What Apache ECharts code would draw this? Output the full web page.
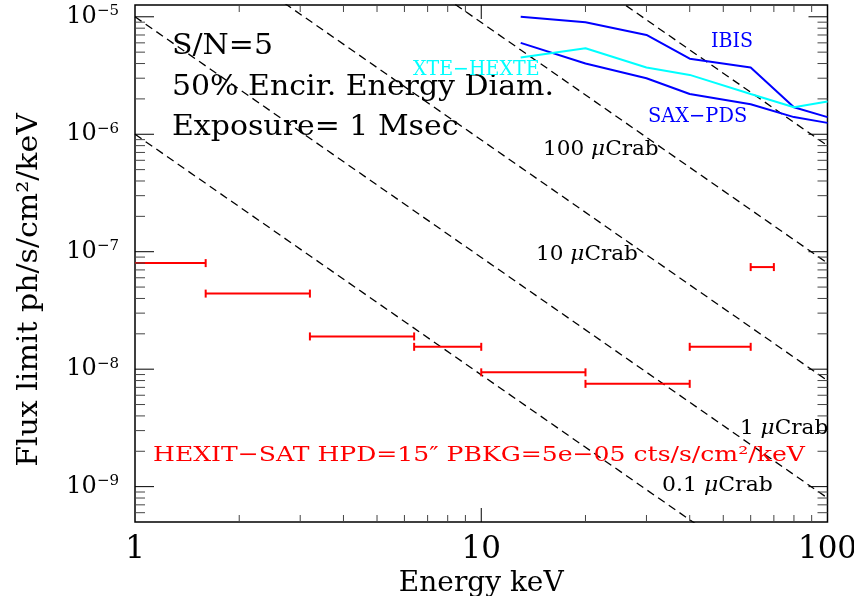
<!DOCTYPE html>
<html>
<head>
<meta charset="utf-8">
<script src="https://cdn.jsdelivr.net/npm/echarts@6/dist/echarts.min.js"></script>
<style>
html, body { margin: 0; padding: 0; background: #fff; }
#chart { width: 854px; height: 596px; }
</style>
</head>
<body>
<div id="chart"></div>
<script>
// energies shared by the instrument curves (keV)
const instrE = [13, 20, 30, 40, 60, 80, 100];
const ibis = [1.0e-5, 9.0e-6, 7.0e-6, 4.4e-6, 3.7e-6, 1.7e-6, 1.4e-6];
const hexte = [4.5e-6, 5.4e-6, 3.7e-6, 3.2e-6, 2.2e-6, 1.7e-6, 1.9e-6];
const pds = [6.0e-6, 4.0e-6, 3.0e-6, 2.2e-6, 1.8e-6, 1.4e-6, 1.25e-6];

// HEXIT-SAT flux limits per energy bin
const binLo = [1, 1.6, 3.2, 6.4, 10, 20, 40, 60];
const binHi = [1.6, 3.2, 6.4, 10, 20, 40, 60, 70];
const binFlux = [8.0e-8, 4.4e-8, 1.9e-8, 1.55e-8, 9.4e-9, 7.5e-9, 1.55e-8, 7.4e-8];

// crab-scaled reference lines, value at 1 keV and at 100 keV
const crabLevels = ['0.1', '1', '10', '100', '1000'];
const crabAt1 = [1e-6, 1e-5, 1e-4, 1e-3, 1e-2];
const crabAt100 = [8e-11, 8e-10, 8e-9, 8e-8, 8e-7];

// axis ranges and tick mantissas
const X_MIN = 1, X_MAX = 100;
const Y_MIN = 5e-10, Y_MAX = 1.26e-5;
const minorMant = [2, 3, 4, 5, 6, 7, 8, 9];
const xDecades = [0, 1, 2];
const yDecades = [-10, -9, -8, -7, -6, -5];

const FONT = '"DejaVu Serif", "Liberation Serif", serif';

function isPow10(v) {
    const l = Math.log10(v);
    return Math.abs(l - Math.round(l)) < 1e-6;
}

function buildTicks(decades, lo, hi) {
    let out = [];
    decades.forEach(d => {
        let base = Math.pow(10, d);
        if (base > lo * 1.0001 && base < hi * 0.9999) out.push([base, 1]);
        minorMant.forEach(m => {
            let v = m * base;
            if (v > lo * 1.0001 && v < hi * 0.9999) out.push([v, 0]);
        });
    });
    return out;
}

let xTicks = buildTicks(xDecades, X_MIN, X_MAX).map(t => [t[0], Y_MIN, t[1]]);
let yTicks = buildTicks(yDecades, Y_MIN, Y_MAX).map(t => [X_MIN, t[0], t[1]]);

function line(a, b, style) {
    return { type: 'line', shape: { x1: a[0], y1: a[1], x2: b[0], y2: b[1] }, style: style };
}

function renderTick(params, api) {
    const isX = params.seriesName === 'xticks';
    const major = api.value(2) === 1;
    const st = { stroke: major ? '#000' : '#444', lineWidth: 1 };
    if (isX) {
        const v = api.value(0);
        const len = major ? 14 : 7;
        const a = api.coord([v, Y_MIN]);
        const b = api.coord([v, Y_MAX]);
        return { type: 'group', children: [
            line(a, [a[0], a[1] - len], st),
            line(b, [b[0], b[1] + len], st)
        ] };
    }
    const v = api.value(1);
    const len = major ? 19 : 10;
    const a = api.coord([X_MIN, v]);
    const b = api.coord([X_MAX, v]);
    return { type: 'group', children: [
        line(a, [a[0] + len, a[1]], st),
        line(b, [b[0] - len, b[1]], st)
    ] };
}

function renderBin(params, api) {
    const lo = api.value(0), hi = api.value(1), f = api.value(2);
    const a = api.coord([lo, f]);
    const b = api.coord([hi, f]);
    const st = { stroke: '#ff0000', lineWidth: 2 };
    const cap = 4;
    let children = [line(a, b, st), line([b[0], b[1] - cap], [b[0], b[1] + cap], st)];
    if (lo > X_MIN) children.push(line([a[0], a[1] - cap], [a[0], a[1] + cap], st));
    return { type: 'group', children: children };
}

let series = [];

crabLevels.forEach((lvl, i) => {
    series.push({
        name: lvl + ' uCrab',
        type: 'line',
        data: [[1, crabAt1[i]], [100, crabAt100[i]]],
        showSymbol: false,
        clip: true,
        lineStyle: { color: '#000', width: 1.3, type: [8, 5] },
        z: 2
    });
});

[['IBIS', ibis, '#0000ff'], ['SAX-PDS', pds, '#0000ff'], ['XTE-HEXTE', hexte, '#00ffff']].forEach(s => {
    series.push({
        name: s[0],
        type: 'line',
        data: instrE.map((e, i) => [e, s[1][i]]),
        showSymbol: false,
        clip: true,
        lineStyle: { color: s[2], width: 2 },
        z: 3
    });
});

series.push({
    name: 'HEXIT-SAT',
    type: 'custom',
    renderItem: renderBin,
    encode: { x: [0, 1], y: 2 },
    data: binLo.map((lo, i) => [lo, binHi[i], binFlux[i]]),
    z: 4
});

series.push({
    name: 'xticks', type: 'custom', renderItem: renderTick,
    encode: { x: 0, y: 1 }, data: xTicks, clip: false, silent: true, z: 5
});
series.push({
    name: 'yticks', type: 'custom', renderItem: renderTick,
    encode: { x: 0, y: 1 }, data: yTicks, clip: false, silent: true, z: 5
});

function note(text, x, y, size, color, sx, extra) {
    return Object.assign({
        type: 'text',
        x: x, y: y,
        scaleX: sx || 1,
        z: 10,
        style: {
            text: text,
            font: size + 'px ' + FONT,
            fill: color,
            align: 'left',
            verticalAlign: 'middle',
            rich: {
                mu: { font: 'italic ' + size + 'px ' + FONT, fill: color }
            }
        }
    }, extra || {});
}

let chart = echarts.init(document.getElementById('chart'));

let option = {
    animation: false,
    backgroundColor: '#fff',
    grid: {
        left: 135, right: 26.5, top: 5, bottom: 74,
        outerBoundsMode: 'none',
        show: true, borderColor: '#000', borderWidth: 1.5
    },
    xAxis: {
        type: 'log',
        min: X_MIN, max: X_MAX,
        splitLine: { show: false },
        axisLine: { show: false },
        axisTick: { show: false },
        axisLabel: {
            interval: 0,
            margin: 12,
            fontFamily: FONT,
            fontSize: 31,
            color: '#000',
            formatter: v => isPow10(v) ? String(Math.round(v)) : ''
        },
        name: 'Energy keV',
        nameLocation: 'middle',
        nameGap: 34,
        nameTextStyle: { fontFamily: FONT, fontSize: 28, color: '#000' }
    },
    yAxis: {
        type: 'log',
        min: Y_MIN, max: Y_MAX,
        splitLine: { show: false },
        axisLine: { show: false },
        axisTick: { show: false },
        axisLabel: {
            interval: 0,
            margin: 16,
            color: '#000',
            formatter: v => isPow10(v) ? '{b|10}{s|\u2212' + (-Math.round(Math.log10(v))) + '}' : '',
            rich: {
                b: { fontFamily: FONT, fontSize: 24, color: '#000', lineHeight: 26 },
                s: { fontFamily: FONT, fontSize: 15, color: '#000', verticalAlign: 'top', lineHeight: 16 }
            }
        }
    },
    graphic: [
        note('S/N=5', 172, 47, 28, '#000', 1.07),
        note('50% Encir. Energy Diam.', 172, 88, 28, '#000', 1.07),
        note('Exposure= 1 Msec', 172, 128, 28, '#000', 1.07),
        note('XTE\u2212HEXTE', 413, 70, 20, '#00ffff', 0.95),
        note('IBIS', 711, 42, 20, '#0000ff', 0.95),
        note('SAX\u2212PDS', 648, 117, 20, '#0000ff', 0.97),
        note('100 {mu|\u03bc}Crab', 543, 150, 20, '#000', 1.08),
        note('10 {mu|\u03bc}Crab', 536, 255, 20, '#000', 1.08),
        note('1 {mu|\u03bc}Crab', 740, 429, 20, '#000', 1.08),
        note('0.1 {mu|\u03bc}Crab', 662, 486, 20, '#000', 1.1),
        note('HEXIT\u2212SAT HPD=15\u2033 PBKG=5e\u221205 cts/s/cm\u00b2/keV', 153, 456, 21, '#ff0000', 1.195),
        note('Flux limit ph/s/cm\u00b2/keV', 30, 290, 28, '#000', 1.07, { rotation: Math.PI / 2, style: {
            text: 'Flux limit ph/s/cm\u00b2/keV', font: '28px ' + FONT, fill: '#000',
            align: 'center', verticalAlign: 'middle'
        } })
    ],
    series: series
};

chart.setOption(option);
</script>
</body>
</html>
